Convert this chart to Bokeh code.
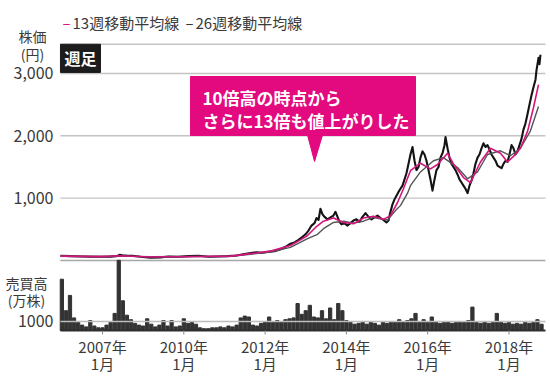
from bokeh.plotting import figure
from bokeh.models import Range1d, Label
from bokeh.core.properties import value
from bokeh.embed import file_html
from bokeh.resources import INLINE

# ---- data (x in axis slots: 0 = "2007年1月", 1 = "2010年1月", ...) ----
tick_pos = [0, 1, 2, 3, 4, 5]
tick_years = ["2007年", "2010年", "2012年", "2014年", "2016年", "2018年"]
tick_months = ["1月", "1月", "1月", "1月", "1月", "1月"]

price_x = [-0.517, -0.394, -0.271, -0.148, -0.025, 0.098, 0.172, 0.209, 0.246, 0.295, 0.369, 0.467,
           0.590, 0.713, 0.812, 0.935, 1.058, 1.181, 1.304, 1.427, 1.550, 1.648, 1.734, 1.820,
           1.894, 1.968, 2.042, 2.116, 2.189, 2.251, 2.312, 2.362, 2.411, 2.460, 2.497, 2.534,
           2.571, 2.608, 2.632, 2.657, 2.681, 2.706, 2.731, 2.768, 2.804, 2.841, 2.866, 2.891,
           2.915, 2.940, 2.977, 3.014, 3.050, 3.087, 3.124, 3.161, 3.198, 3.235, 3.272, 3.309,
           3.346, 3.383, 3.419, 3.456, 3.493, 3.518, 3.542, 3.567, 3.592, 3.616, 3.641, 3.665,
           3.690, 3.715, 3.739, 3.764, 3.788, 3.813, 3.838, 3.862, 3.887, 3.911, 3.936, 3.961,
           3.985, 4.010, 4.034, 4.059, 4.084, 4.108, 4.133, 4.157, 4.182, 4.207, 4.219, 4.244,
           4.268, 4.293, 4.317, 4.342, 4.367, 4.391, 4.416, 4.440, 4.465, 4.490, 4.514, 4.539,
           4.563, 4.588, 4.613, 4.637, 4.662, 4.686, 4.711, 4.736, 4.760, 4.785, 4.809, 4.834,
           4.859, 4.883, 4.908, 4.932, 4.957, 4.982, 5.006, 5.031, 5.055, 5.080, 5.105, 5.129,
           5.154, 5.178, 5.203, 5.228, 5.252, 5.277, 5.301, 5.326, 5.338, 5.363, 5.375, 5.387]
price_close = [75, 70, 65, 60, 60, 62, 70, 90, 85, 80, 75, 60,
               45, 50, 65, 60, 70, 75, 60, 65, 70, 80, 100, 120,
               130, 125, 140, 150, 180, 220, 270, 290, 330, 380, 420, 480,
               560, 600, 680, 650, 830, 740, 700, 660, 690, 720, 780, 700,
               620, 580, 600, 560, 600, 640, 660, 620, 700, 760, 700, 660,
               690, 720, 680, 650, 610, 640, 780, 900, 980, 1040, 1100, 1150,
               1200, 1300, 1400, 1550, 1700, 1820, 1600, 1450, 1500, 1650, 1750, 1700,
               1600, 1450, 1300, 1120, 1300, 1450, 1500, 1650, 1720, 1850, 1980, 1800,
               1650, 1550, 1500, 1450, 1380, 1300, 1250, 1200, 1150, 1080, 1200, 1280,
               1400, 1550, 1650, 1700, 1800, 1880, 1820, 1850, 1780, 1700, 1650, 1600,
               1520, 1500, 1480, 1550, 1600, 1580, 1700, 1850, 1800, 1700, 1750, 1850,
               1950, 2100, 2200, 2350, 2500, 2650, 2780, 2900, 3050, 3250, 3150, 3300]

ma13_x = [-0.517, -0.025, 0.221, 0.590, 1.205, 1.574, 1.820, 2.066, 2.312, 2.435, 2.522, 2.620,
          2.718, 2.841, 2.964, 3.087, 3.210, 3.333, 3.456, 3.542, 3.629, 3.702, 3.788, 3.911,
          4.034, 4.121, 4.244, 4.317, 4.440, 4.526, 4.649, 4.772, 4.895, 4.982, 5.055, 5.141,
          5.228, 5.301, 5.363]
ma13 = [70, 62, 75, 55, 65, 70, 110, 150, 240, 330, 400, 530,
        630, 680, 610, 590, 680, 710, 660, 720, 930, 1150, 1440, 1560,
        1470, 1540, 1720, 1550, 1330, 1250, 1580, 1800, 1720, 1580, 1670, 1800,
        2070, 2450, 2820]

ma26_x = [-0.517, -0.025, 0.221, 0.590, 1.205, 1.574, 1.820, 2.066, 2.312, 2.522, 2.645, 2.718,
          2.841, 2.964, 3.087, 3.210, 3.333, 3.506, 3.604, 3.665, 3.752, 3.788, 3.911, 4.071,
          4.194, 4.367, 4.490, 4.613, 4.736, 4.895, 5.018, 5.141, 5.264, 5.363]
ma26 = [72, 65, 70, 60, 63, 68, 100, 135, 210, 350, 420, 510,
        610, 630, 600, 630, 690, 650, 800, 880, 1080, 1200, 1420, 1600,
        1650, 1490, 1310, 1420, 1700, 1760, 1680, 1800, 2080, 2470]

vol_x = [-0.50, -0.45, -0.40, -0.35, -0.30, -0.25, -0.20, -0.15, -0.10, -0.05, 0.00, 0.05,
         0.10, 0.15, 0.20, 0.25, 0.30, 0.35, 0.40, 0.45, 0.50, 0.55, 0.60, 0.65,
         0.70, 0.75, 0.80, 0.85, 0.90, 0.95, 1.00, 1.05, 1.10, 1.15, 1.20, 1.25,
         1.30, 1.35, 1.40, 1.45, 1.50, 1.55, 1.60, 1.65, 1.70, 1.75, 1.80, 1.85,
         1.90, 1.95, 2.00, 2.05, 2.10, 2.15, 2.20, 2.25, 2.30, 2.35, 2.40, 2.45,
         2.50, 2.55, 2.60, 2.65, 2.70, 2.75, 2.80, 2.85, 2.90, 2.95, 3.00, 3.05,
         3.10, 3.15, 3.20, 3.25, 3.30, 3.35, 3.40, 3.45, 3.50, 3.55, 3.60, 3.65,
         3.70, 3.75, 3.80, 3.85, 3.90, 3.95, 4.00, 4.05, 4.10, 4.15, 4.20, 4.25,
         4.30, 4.35, 4.40, 4.45, 4.50, 4.55, 4.60, 4.65, 4.70, 4.75, 4.80, 4.85,
         4.90, 4.95, 5.00, 5.05, 5.10, 5.15, 5.20, 5.25, 5.30, 5.35, 5.40]
volume = [5700, 2200, 3900, 1400, 900, 600, 400, 1100, 500, 300, 300, 600,
          900, 1900, 7800, 3300, 1700, 1200, 800, 600, 500, 1300, 700, 400,
          600, 1100, 500, 1100, 400, 500, 1300, 800, 900, 700, 300, 200,
          200, 300, 300, 400, 300, 500, 400, 600, 1400, 1600, 1500, 600,
          500, 800, 1000, 1500, 900, 1100, 1000, 1200, 1300, 1400, 3000, 1800,
          2200, 2800, 1500, 1400, 2200, 1300, 2500, 1200, 3000, 2200, 1100, 900,
          700, 800, 900, 700, 900, 800, 600, 900, 800, 1000, 900, 1200,
          1000, 1100, 1300, 1900, 1000, 1200, 900, 1500, 1000, 800, 900, 1000,
          800, 900, 1000, 900, 1100, 2600, 900, 800, 1000, 800, 900, 1900,
          1000, 800, 900, 700, 800, 700, 900, 800, 900, 1200, 700]

price_ticks = [1000, 2000, 3000]
price_tick_labels = ["1,000", "2,000", "3,000"]
vol_ticks = [1000]
vol_tick_labels = ["1000"]

MAGENTA = "#e3097f"
MA13_COL = "#d3157d"
FONT = "Noto Sans CJK JP"
TXT = "#3a3a3a"

# plotting area spans x -0.517 .. 5.449; price panel 0 .. 3465; volume panel below
X0, X1 = -0.517, 5.449
p = figure(width=550, height=380, output_backend="svg", toolbar_location=None,
           x_range=Range1d(-1.2546, 5.5105), y_range=Range1d(-1925, 4170),
           x_axis_type=None, y_axis_type=None, min_border=0)
p.extra_y_ranges = {"vol": Range1d(-5556, 36667)}
p.outline_line_color = None
p.background_fill_color = "white"
p.border_fill_color = "white"

# price gridlines, top line and panel bottom
grid_y = price_ticks + [3468]
p.segment(x0=[X0] * len(grid_y), x1=[X1] * len(grid_y), y0=grid_y, y1=grid_y,
          line_color="#c4c4c4", line_width=1.4)
p.segment(x0=[X0], x1=[X1], y0=[0], y1=[0], line_color="#a8a8a8", line_width=1.6)

# price tick labels
p.text(x=[-0.603] * len(price_ticks), y=price_ticks, text=price_tick_labels,
       text_font=value(FONT), text_font_size="16px", text_color=TXT,
       text_align="right", text_baseline="middle")

# volume bars
p.vbar(x=vol_x, top=volume, bottom=0, width=0.04, color="#333333", y_range_name="vol")
p.segment(x0=[X0], x1=[X1], y0=vol_ticks, y1=vol_ticks, line_color="#bdbdbd",
          line_width=1.6, y_range_name="vol")
p.text(x=[-0.603], y=vol_ticks, text=vol_tick_labels, y_range_name="vol",
       text_font=value(FONT), text_font_size="16px", text_color=TXT,
       text_align="right", text_baseline="middle")

# x axis line, ticks, labels
p.segment(x0=[X0], x1=[X1], y0=[0], y1=[0], line_color="#2e2e2e", line_width=2,
          y_range_name="vol")
p.segment(x0=tick_pos, x1=tick_pos, y0=[0] * 6, y1=[-440] * 6, line_color="#888888",
          line_width=1, y_range_name="vol")
p.text(x=tick_pos, y=[-1379] * 6, text=tick_years, text_font=value(FONT),
       text_font_size="15px", text_color=TXT, text_align="center", text_baseline="middle")
p.text(x=tick_pos, y=[-1652] * 6, text=tick_months, text_font=value(FONT),
       text_font_size="15px", text_color=TXT, text_align="center", text_baseline="middle")

# price & moving averages
p.line(price_x, price_close, line_color="#141414", line_width=2.1, line_join="round")
p.line(ma26_x, ma26, line_color="#555555", line_width=1.4, line_join="round")
p.line(ma13_x, ma13, line_color=MA13_COL, line_width=1.6, line_join="round")

# 週足 badge
p.quad(left=X0, right=-0.025, top=3468, bottom=3016, color="#1c1c1c")
p.add_layout(Label(x=-0.271, y=3240, text="週足", text_font=FONT, text_font_size="16px",
                   text_font_style="bold", text_color="white", text_align="center",
                   text_baseline="middle"))

# callout
p.quad(left=1.082, right=3.850, top=2951, bottom=2005, color=MAGENTA)
p.patch([2.522, 2.706, 2.608], [2010, 2010, 1588], color=MAGENTA)
for yy, t in [(2615, "10倍高の時点から"), (2246, "さらに13倍も値上がりした")]:
    p.add_layout(Label(x=1.23, y=yy, text=t, text_font=FONT, text_font_size="17px",
                       text_font_style="bold", text_color="white", text_align="left",
                       text_baseline="middle"))

# legend
ly = 3825
p.add_layout(Label(x=-0.492, y=ly, text="–", text_font=FONT, text_font_size="15px",
                   text_color=MA13_COL, text_baseline="middle"))
p.add_layout(Label(x=-0.369, y=ly, text="13週移動平均線", text_font=FONT, text_font_size="15px",
                   text_color=TXT, text_baseline="middle"))
p.add_layout(Label(x=1.021, y=ly, text="–", text_font=FONT, text_font_size="15px",
                   text_color="#333333", text_baseline="middle"))
p.add_layout(Label(x=1.144, y=ly, text="26週移動平均線", text_font=FONT, text_font_size="15px",
                   text_color=TXT, text_baseline="middle"))

# panel titles
for xx, yy, t in [(-0.861, 3593, "株価"), (-0.861, 3304, "(円)"),
                  (-0.935, -369, "売買高"), (-0.935, -626, "(万株)")]:
    p.add_layout(Label(x=xx, y=yy, text=t, text_font=FONT, text_font_size="14px",
                       text_color=TXT, text_align="center", text_baseline="middle"))

open("out.html", "w").write(file_html(p, INLINE))
